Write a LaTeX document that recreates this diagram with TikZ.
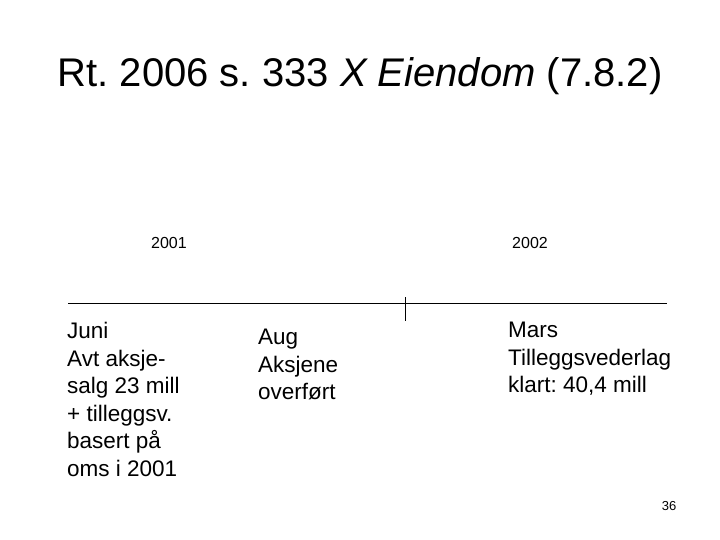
\documentclass[tikz,border=0pt]{standalone}
\usepackage{fontspec}
\setmainfont{Liberation Sans}
\usetikzlibrary{positioning}
\frenchspacing

\begin{document}
\begin{tikzpicture}[
  x=1pt,y=-1pt,
  txt/.style={inner sep=0pt,align=left,anchor=north west,font=\fontsize{22.5}{27.5}\selectfont},
  yr/.style={inner sep=0pt,font=\fontsize{16}{18}\selectfont},
  line/.style={draw=black,line width=0.9pt}
]
\useasboundingbox (0,0) rectangle (720,540);
\node[inner sep=0pt,anchor=base,font=\fontsize{40}{46}\selectfont] (title) at (360,87) {Rt. 2006 s. 333 \textit{X Eiendom} (7.8.2)};
\node[yr,anchor=base] (yr1) at (169,248) {2001};
\node[yr,anchor=base] (yr2) at (530,248) {2002};
\coordinate (tl) at (68,303);
\coordinate (tr) at (667,303);
\coordinate (tt) at (405,297);
\coordinate (tb) at (405,321);
\draw[line] (tl) -- (tr);
\draw[line] (tt) -- (tb);
\node[txt] (juni) at (67,322) {Juni\\Avt aksje-\\salg 23 mill\\+ tilleggsv.\\basert på\\oms i 2001};
\node[txt] (aug) at (258,329) {Aug\\Aksjene\\overført};
\node[txt] (mars) at (508,322) {Mars\\Tilleggsvederlag\\klart: 40,4 mill};
\node[inner sep=0pt,anchor=base,font=\fontsize{13}{15}\selectfont] (pagenr) at (669,510) {36};
\end{tikzpicture}
\end{document}
